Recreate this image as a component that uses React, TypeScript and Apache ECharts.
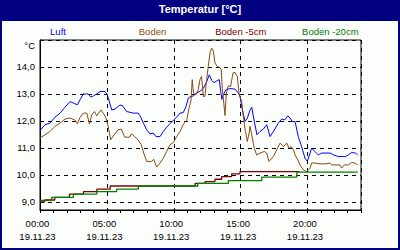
import { useEffect, useRef } from 'react';
import * as echarts from 'echarts';

const dateLabel = '19.11.23';
const legendNames = ['Luft', 'Boden', 'Boden -5cm', 'Boden -20cm'];
const legendColors = ['#0000ff', '#8c4a10', '#800000', '#008000'];

const luftHours = [0.0, 0.37, 0.75, 1.12, 1.5, 1.87, 2.24, 2.6, 2.8, 3.0, 3.24, 3.6, 3.8, 4.0, 4.24, 4.49, 4.86, 5.03, 5.36, 5.6, 5.98, 6.18, 6.48, 6.98, 7.35, 7.48, 7.73, 7.98, 8.22, 8.47, 8.67, 8.97, 9.22, 9.47, 9.72, 9.97, 10.22, 10.47, 10.71, 10.92, 11.09, 11.21, 11.46, 11.71, 11.96, 12.21, 12.46, 12.66, 12.84, 13.01, 13.26, 13.41, 13.51, 13.6, 13.7, 13.91, 14.21, 14.58, 14.83, 14.95, 15.13, 15.33, 15.5, 15.7, 15.83, 16.0, 16.22, 16.45, 16.7, 16.95, 17.2, 17.45, 17.82, 18.07, 18.3, 18.52, 18.7, 18.85, 19.07, 19.31, 19.56, 19.81, 19.99, 20.19, 20.31, 20.55, 20.81, 21.05, 21.31, 21.7, 21.95, 22.3, 22.6, 22.85, 23.05, 23.3, 23.6, 23.75];
const luftValues = [11.64, 11.86, 11.92, 12.14, 12.29, 12.51, 12.72, 12.64, 12.6, 12.79, 13.0, 13.0, 12.89, 12.93, 13.0, 13.09, 13.09, 12.97, 12.41, 12.44, 12.59, 12.56, 12.35, 12.29, 12.29, 12.19, 11.92, 11.67, 11.52, 11.55, 11.42, 11.42, 11.61, 11.77, 11.9, 12.02, 12.14, 12.29, 12.31, 12.54, 12.85, 12.89, 12.93, 13.03, 13.1, 13.2, 13.45, 13.71, 13.5, 13.42, 13.5, 13.53, 13.1, 12.8, 12.97, 13.16, 13.2, 13.18, 13.03, 12.91, 12.41, 11.98, 12.1, 12.4, 12.51, 12.04, 11.49, 11.61, 11.7, 11.86, 11.42, 11.61, 11.92, 12.07, 12.04, 12.19, 12.11, 11.98, 11.98, 11.42, 11.05, 10.62, 10.5, 10.81, 10.99, 10.87, 10.74, 10.81, 10.81, 10.81, 10.74, 10.68, 10.68, 10.68, 10.74, 10.83, 10.81, 10.74];

const bodenHours = [0.0, 0.37, 0.75, 1.12, 1.5, 1.87, 2.24, 2.6, 2.8, 3.0, 3.24, 3.5, 3.7, 3.87, 4.07, 4.25, 4.55, 4.75, 4.93, 5.1, 5.28, 5.55, 5.83, 6.08, 6.33, 6.7, 6.83, 7.08, 7.33, 7.57, 7.8, 7.98, 8.35, 8.5, 8.72, 8.97, 9.22, 9.47, 9.72, 9.97, 10.22, 10.47, 10.7, 10.97, 11.17, 11.3, 11.38, 11.48, 11.65, 11.83, 11.96, 12.08, 12.21, 12.33, 12.46, 12.58, 12.71, 12.83, 12.96, 13.08, 13.25, 13.45, 13.55, 13.63, 13.74, 13.83, 13.93, 14.08, 14.25, 14.43, 14.58, 14.75, 14.88, 15.08, 15.2, 15.36, 15.5, 15.65, 15.7, 15.83, 16.02, 16.2, 16.45, 16.77, 16.95, 17.12, 17.45, 17.7, 17.95, 18.2, 18.45, 18.62, 18.77, 18.95, 19.07, 19.27, 19.44, 19.69, 19.94, 20.19, 20.31, 20.55, 20.93, 21.31, 21.68, 21.8, 22.18, 22.43, 22.55, 22.75, 23.05, 23.3, 23.55, 23.75];
const bodenValues = [11.36, 11.49, 11.61, 11.8, 11.92, 12.07, 12.11, 12.04, 11.9, 12.14, 12.29, 12.29, 11.88, 12.23, 12.35, 12.19, 12.41, 12.27, 12.11, 11.8, 11.3, 11.49, 11.67, 11.7, 11.4, 11.4, 11.52, 11.42, 11.3, 11.12, 10.74, 10.5, 10.5, 10.58, 10.29, 10.44, 10.62, 10.87, 11.12, 11.2, 11.42, 11.61, 11.86, 12.04, 12.54, 12.79, 13.53, 13.03, 12.97, 13.16, 13.53, 13.65, 12.91, 12.91, 13.53, 14.02, 14.52, 14.7, 14.6, 14.15, 14.02, 13.98, 13.9, 13.2, 12.66, 12.2, 13.03, 13.3, 13.28, 13.78, 13.8, 13.65, 13.03, 12.72, 12.17, 11.61, 11.24, 11.6, 11.8, 11.49, 10.99, 10.74, 10.81, 10.87, 10.81, 10.5, 10.68, 10.93, 11.18, 11.05, 11.18, 10.99, 11.05, 10.93, 10.74, 10.56, 10.37, 10.19, 10.12, 10.25, 10.44, 10.44, 10.41, 10.41, 10.44, 10.37, 10.37, 10.37, 10.25, 10.37, 10.37, 10.46, 10.44, 10.37];

const boden5Hours = [0, 0.35, 1.1, 2.2, 3.25, 4.25, 5.25, 11.6, 12.34, 13.08, 13.58, 14.33, 14.95, 19.4];
const boden5Values = [9.0, 9.07, 9.17, 9.29, 9.38, 9.47, 9.59, 9.69, 9.75, 9.84, 9.94, 10.04, 10.12, 10.12];

const boden20Hours = [0, 0.87, 2.5, 4.24, 5.73, 7.35, 11.8, 14.08, 16.58, 19.2, 23.75];
const boden20Values = [9.06, 9.17, 9.29, 9.38, 9.47, 9.59, 9.69, 9.79, 9.92, 10.1, 10.1];

const FONT = '"Liberation Sans", Arial, sans-serif';

function pairs(h: number[], v: number[]) {
  return h.map((x, i) => [x, v[i]]);
}

export default function App() {
  const ref = useRef<HTMLDivElement>(null);
  useEffect(() => {
    const chart = echarts.init(ref.current!, null, { renderer: 'svg' });
    const legendX = [58, 152.5, 240.8, 330.3];
    chart.setOption({
      animation: false,
      backgroundColor: '#fcfefc',
      textStyle: { fontFamily: FONT },
      title: {
        text: 'Temperatur [°C]',
        left: 'center',
        top: 3,
        padding: 0,
        textStyle: { color: '#ffffff', fontSize: 11, fontWeight: 'bold', fontFamily: FONT },
      },
      graphic: [
        { type: 'rect', z: 0, shape: { x: 0, y: 0, width: 400, height: 21 }, style: { fill: '#000080' }, silent: true },
        { type: 'rect', z: 0, shape: { x: 1, y: 1, width: 398, height: 248 }, style: { fill: 'none', stroke: '#000080', lineWidth: 2 }, silent: true },
        ...legendNames.map((n, i) => ({
          type: 'text',
          x: legendX[i],
          y: 31,
          style: { text: n, fill: legendColors[i], font: `9.5px ${FONT}`, textAlign: 'center', textVerticalAlign: 'middle' },
        })),
        { type: 'text', x: 35, y: 45, style: { text: '°C', fill: '#000', font: `9.5px ${FONT}`, textAlign: 'right', textVerticalAlign: 'middle' } },
      ],
      grid: { left: 40, right: 39, top: 40, bottom: 40, show: true, borderColor: '#000', borderWidth: 1, backgroundColor: 'transparent' },
      xAxis: [
        {
          type: 'value', min: 0, max: 24, interval: 5, position: 'bottom',
          axisLine: { show: true, lineStyle: { color: '#000', width: 1 } },
          axisTick: { show: false },
          splitLine: { show: true, lineStyle: { color: '#000', type: [4, 4], width: 1 } },
          axisLabel: {
            color: '#000', fontSize: 9.5, lineHeight: 13, margin: 7, fontFamily: FONT,
            padding: [0, 5, 0, 0],
            showMaxLabel: false,
            formatter: (v: number) => (v % 5 === 0 && v < 24 ? `${String(v).padStart(2, '0')}:00\n${dateLabel}` : ''),
          },
        },
        {
          type: 'value', min: 0, max: 24, interval: 1, position: 'bottom',
          axisLine: { show: false },
          axisTick: { show: true, length: 3, inside: false, lineStyle: { color: '#000' } },
          axisLabel: { show: false },
          splitLine: { show: false },
        },
      ],
      yAxis: {
        type: 'value', min: 8.7, max: 15,
        axisLine: { show: true, lineStyle: { color: '#000' } },
        axisTick: { show: false },
        splitLine: { show: true, lineStyle: { color: '#000', type: [4, 4], width: 1 } },
        axisLabel: {
          color: '#000', fontSize: 9.5, margin: 5, fontFamily: FONT,
          formatter: (v: number) => (v > 14.99 || v < 8.99 ? '' : v.toFixed(1).replace('.', ',')),
        },
      },
      series: [
        { name: legendNames[0], type: 'line', xAxisIndex: 0, data: pairs(luftHours, luftValues), showSymbol: false, symbol: 'none', lineStyle: { color: legendColors[0], width: 1 } },
        { name: legendNames[1], type: 'line', xAxisIndex: 0, data: pairs(bodenHours, bodenValues), showSymbol: false, symbol: 'none', lineStyle: { color: legendColors[1], width: 1 } },
        { name: legendNames[2], type: 'line', xAxisIndex: 0, step: 'end', data: pairs(boden5Hours, boden5Values), showSymbol: false, symbol: 'none', lineStyle: { color: legendColors[2], width: 1.3 } },
        { name: legendNames[3], type: 'line', xAxisIndex: 0, step: 'end', data: pairs(boden20Hours, boden20Values), showSymbol: false, symbol: 'none', lineStyle: { color: legendColors[3], width: 1.3 } },
      ],
    });
    return () => chart.dispose();
  }, []);
  return <div ref={ref} style={{ position: 'fixed', left: 0, top: 0, width: 400, height: 250 }} />;
}
